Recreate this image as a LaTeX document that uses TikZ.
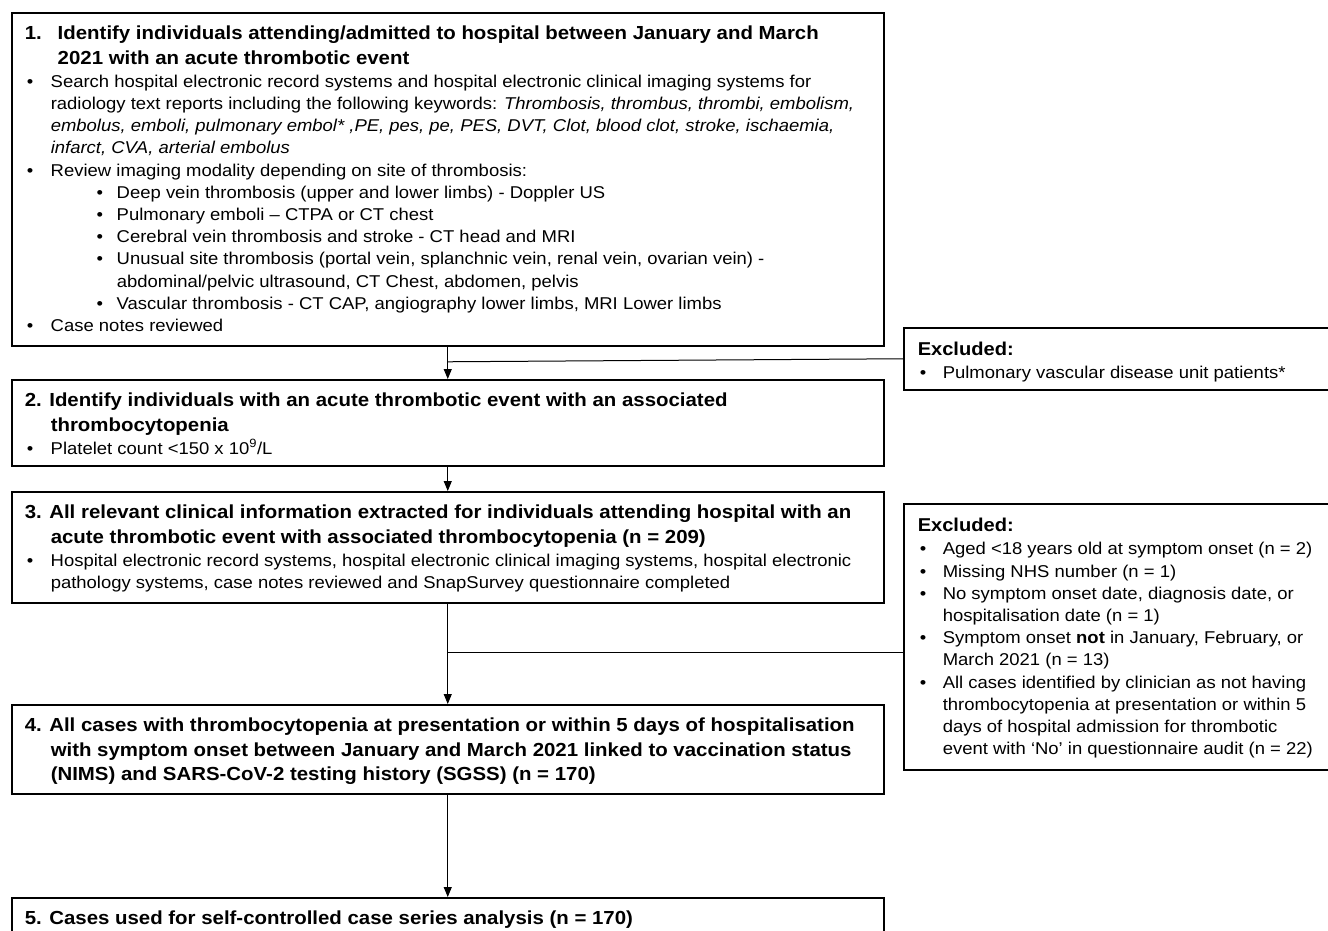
\documentclass[tikz,border=0pt]{standalone}
\usepackage{fontspec}
\setmainfont{Liberation Sans}[FakeStretch=1.08]
\usetikzlibrary{arrows.meta, calc}

\newcommand{\titlefont}{\fontsize{18.9}{24.8}\selectfont\bfseries}
\newcommand{\bodyfont}{\fontsize{17.1}{22.2}\selectfont}
% text block of a box: width / height / first baseline / content
\newcommand{\panel}[4]{%
  \begin{minipage}[t][#2][t]{#1}\bodyfont\rightskip=0pt plus 1fil
    \def\firstbase{#3}#4\par
  \end{minipage}}
\newcommand{\tline}[2]{\par\begingroup\titlefont\noindent
  \hangindent=#1\hangafter=1\rule{0pt}{\firstbase}#2\par\endgroup\vspace{1pt}}
\newcommand{\xhead}[1]{\par\begingroup\fontsize{18.6}{22.2}\selectfont\bfseries
  \noindent\rule{0pt}{\firstbase}#1\par\endgroup\vspace{1pt}}
\newcommand{\bul}[1]{\par\noindent\hangindent=26pt\hangafter=1
  \hspace*{2pt}\makebox[24pt][l]{\textbullet}#1}
\newcommand{\sbul}[1]{\par\noindent\hangindent=92pt\hangafter=1
  \hspace*{72pt}\makebox[20pt][l]{\textbullet}#1}
\newcommand{\xbul}[1]{\par\noindent\hangindent=25pt\hangafter=1
  \hspace*{2pt}\makebox[23pt][l]{\textbullet}#1}

\tikzset{
  stage/.style={
    draw=black, line width=1.5pt, anchor=north west,
    inner xsep=13pt, inner ysep=0pt,
  },
  excl/.style={
    draw=black, line width=1.5pt, anchor=north west,
    inner xsep=14pt, inner ysep=0pt,
  },
  arr/.style={
    -{Triangle[length=10pt,width=8pt]},
    line width=1pt, color=black,
  },
  lnk/.style={line width=1pt, color=black},
}

\begin{document}
\begin{tikzpicture}[x=1pt,y=-1pt]

    \fill[white] (0,0) rectangle (1328,930);
    \useasboundingbox (0,0) rectangle (1328,930);

    \node[stage] (s1) at (11,12) {\panel{846pt}{333pt}{26.5pt}{%
      \tline{33pt}{\makebox[33pt][l]{1.}Identify individuals attending/admitted to hospital between January and March\\
        2021 with an acute thrombotic event}
      \bul{Search hospital electronic record systems and hospital electronic clinical imaging systems for\\
        radiology text reports including the following keywords: \textit{Thrombosis, thrombus, thrombi, embolism,\\
        embolus, emboli, pulmonary embol* ,PE, pes, pe, PES, DVT, Clot, blood clot, stroke, ischaemia,\\
        infarct, CVA, arterial embolus}}
      \bul{Review imaging modality depending on site of thrombosis:}
      \sbul{Deep vein thrombosis (upper and lower limbs) - Doppler US}
      \sbul{Pulmonary emboli – CTPA or CT chest}
      \sbul{Cerebral vein thrombosis and stroke - CT head and MRI}
      \sbul{Unusual site thrombosis (portal vein, splanchnic vein, renal vein, ovarian vein) -\\
        abdominal/pelvic ultrasound, CT Chest, abdomen, pelvis}
      \sbul{Vascular thrombosis - CT CAP, angiography lower limbs, MRI Lower limbs}
      \bul{Case notes reviewed}}};

    \node[stage] (s2) at (11,379) {\panel{846pt}{86pt}{26.5pt}{%
      \tline{26pt}{2. Identify individuals with an acute thrombotic event with an associated\\
        thrombocytopenia}
      \bul{Platelet count <150 x 10\textsuperscript{9}/L}}};

    \node[stage] (s3) at (11,491) {\panel{846pt}{111pt}{26.5pt}{%
      \tline{26pt}{3. All relevant clinical information extracted for individuals attending hospital with an\\
        acute thrombotic event with associated thrombocytopenia (n = 209)}
      \bul{Hospital electronic record systems, hospital electronic clinical imaging systems, hospital electronic\\
        pathology systems, case notes reviewed and SnapSurvey questionnaire completed}}};

    \node[stage] (s4) at (11,704) {\panel{846pt}{89pt}{26.5pt}{%
      \tline{26pt}{4. All cases with thrombocytopenia at presentation or within 5 days of hospitalisation\\
        with symptom onset between January and March 2021 linked to vaccination status\\
        (NIMS) and SARS-CoV-2 testing history (SGSS) (n = 170)}}};

    \node[stage] (s5) at (11,897) {\panel{846pt}{70pt}{26.5pt}{%
      \tline{26pt}{5. Cases used for self-controlled case series analysis (n = 170)}}};

    \node[excl] (ex1) at (903,327) {\panel{414pt}{62pt}{28pt}{%
      \xhead{Excluded:}
      \xbul{Pulmonary vascular disease unit patients*}}};

    \node[excl] (ex2) at (903,503) {\panel{414pt}{266pt}{28pt}{%
      \xhead{Excluded:}
      \xbul{Aged <18 years old at symptom onset (n = 2)}
      \xbul{Missing NHS number (n = 1)}
      \xbul{No symptom onset date, diagnosis date, or\\
        hospitalisation date (n = 1)}
      \xbul{Symptom onset \textbf{not} in January, February, or\\
        March 2021 (n = 13)}
      \xbul{All cases identified by clinician as not having\\
        thrombocytopenia at presentation or within 5\\
        days of hospital admission for thrombotic\\
        event with ‘No’ in questionnaire audit (n = 22)}}};

    % main flow
    \draw[arr] (s1.south) -- (s2.north);
    \draw[arr] (s2.south) -- (s3.north);
    \draw[arr] (s3.south) -- (s4.north);
    \draw[arr] (s4.south) -- (s5.north);

    % exclusions
    \coordinate (j1) at ($(s1.south)!0.47!(s2.north)$);
    \coordinate (j2) at ($(s3.south)!0.49!(s4.north)$);
    \draw[lnk] (j1) -- (ex1.west);
    \draw[lnk] (j2) -- (j2 -| ex2.west);

\end{tikzpicture}
\end{document}
